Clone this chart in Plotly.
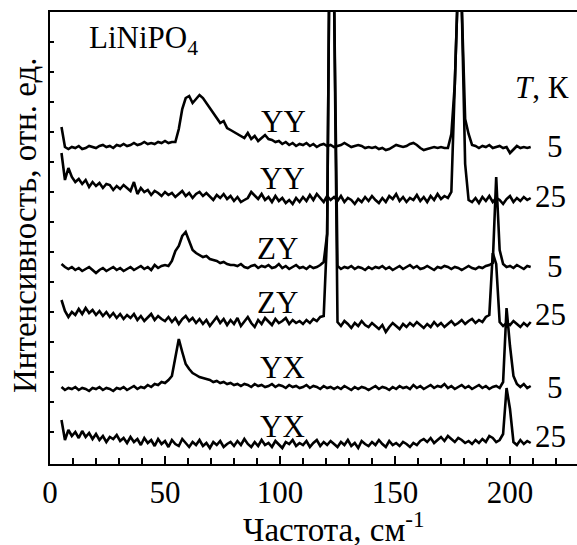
import plotly.graph_objects as go

# Raman shift grid, cm^-1
wavenumber = [
    5, 6.5, 8, 9.5, 11, 12.5, 14, 15.5, 17, 18.5,
    20, 21.5, 23, 24.5, 26, 27.5, 29, 30.5, 32, 33.5,
    35, 36.5, 38, 39.5, 41, 42.5, 44, 45.5, 47, 48.5,
    50, 51.5, 53, 54.5, 56, 57.5, 59, 60.5, 62, 63.5,
    65, 66.5, 68, 69.5, 71, 72.5, 74, 75.5, 77, 78.5,
    80, 81.5, 83, 84.5, 86, 87.5, 89, 90.5, 92, 93.5,
    95, 96.5, 98, 99.5, 101, 102.5, 104, 105.5, 107, 108.5,
    110, 111.5, 113, 114.5, 116, 117.5, 119, 120.5, 122, 123.5,
    125, 126.5, 128, 129.5, 131, 132.5, 134, 135.5, 137, 138.5,
    140, 141.5, 143, 144.5, 146, 147.5, 149, 150.5, 152, 153.5,
    155, 156.5, 158, 159.5, 161, 162.5, 164, 165.5, 167, 168.5,
    170, 171.5, 173, 174.5, 176, 177.5, 179, 180.5, 182, 183.5,
    185, 186.5, 188, 189.5, 191, 192.5, 194, 195.5, 197, 198.5,
    200, 201.5, 203, 204.5, 206, 207.5, 209,
]

# Offset spectra (relative units)
yy_5K = [
    337, 317, 315, 317, 316, 318, 315, 316, 318, 317,
    316, 318, 319, 317, 318, 316, 319, 318, 320, 318,
    319, 321, 319, 320, 322, 320, 321, 320, 322, 321,
    323, 321, 322, 322, 335, 355, 366, 368, 361, 365,
    369, 366, 361, 355, 350, 345, 341, 343, 336, 334,
    332, 330, 328, 326, 331, 325, 328, 323, 326, 329,
    325, 324, 322, 323, 320, 322, 319, 321, 318, 320,
    319, 321, 318, 320, 317, 319, 320, 318, 319, 317,
    318, 319, 321, 319, 317, 318, 319, 318, 316, 317,
    316, 317, 315, 316, 314, 315, 317, 319, 318, 317,
    318, 320, 321, 319, 316, 314, 315, 316, 317, 316,
    317, 316, 316, 330, 380, 488, 460, 345, 330, 319,
    318, 316, 318, 317, 319, 316, 317, 318, 316, 317,
    311, 315, 318, 316, 317, 316, 317,
]
yy_25K = [
    311, 284, 296, 287, 282, 285, 280, 284, 277, 282,
    278, 281, 276, 280, 279, 274, 278, 275, 279, 276,
    273, 282, 270, 276, 272, 274, 269, 273, 271, 268,
    272, 269, 271, 267, 270, 273, 268, 271, 266, 270,
    272, 268, 271, 267, 264, 269, 266, 270, 265, 268,
    263, 267, 262, 264, 266, 272, 268, 265, 270, 264,
    267, 262, 268, 263, 266, 261, 264, 260, 266, 262,
    267, 263, 269, 264, 270, 266, 262, 268, 264, 267,
    263, 268, 262, 266, 264, 260, 265, 262, 267, 263,
    268, 264, 261, 266, 262, 268, 265, 270, 263, 267,
    262, 266, 264, 269, 263, 267, 262, 268, 264, 270,
    265, 268, 266, 272, 380, 488, 460, 300, 264, 262,
    266, 261, 267, 263, 268, 262, 266, 264, 260, 265,
    268, 262, 266, 263, 267, 264, 266,
]
zy_5K = [
    200, 197, 195, 197, 194, 196, 193, 195, 197, 194,
    191, 194, 196, 193, 195, 197, 194, 196, 193, 195,
    197, 194, 196, 198, 195, 197, 194, 199, 196, 198,
    199, 198, 203, 213, 218, 228, 232, 222, 214, 211,
    209, 207, 208, 205, 204, 203, 201, 202, 200, 199,
    199, 198, 200, 197, 196, 198, 199, 196, 198, 197,
    199, 196, 197, 200, 196, 198, 195, 197, 199, 196,
    197, 195, 198, 196, 197, 199, 202, 230, 650, 470,
    198, 195, 197, 196, 198, 195, 197, 196, 194, 197,
    195, 197, 196, 198, 195, 197, 194, 196, 198, 195,
    197, 199, 196, 198, 195, 196, 198, 196, 194, 197,
    196, 198, 197, 195, 197, 196, 194, 196, 198, 196,
    195, 197, 196, 198, 199, 201, 287, 214, 200, 197,
    198, 196, 199, 197, 195, 198, 197,
]
zy_25K = [
    164, 153, 147, 152, 149, 155, 150, 156, 151, 154,
    149, 153, 148, 152, 147, 151, 146, 150, 145, 149,
    146, 150, 144, 148, 143, 147, 150, 144, 148, 145,
    143, 147, 142, 146, 140, 145, 148, 143, 146, 141,
    145, 140, 144, 138, 143, 147, 141, 145, 139, 144,
    140, 146, 138, 143, 147, 141, 137, 144, 140, 146,
    142, 139, 145, 141, 143, 146, 140, 144, 141, 143,
    140, 144, 141, 145, 143, 147, 148, 230, 650, 470,
    142, 138, 143, 140, 136, 141, 138, 143, 139, 137,
    141, 138, 135, 139, 132, 137, 141, 138, 135, 140,
    137, 141, 138, 142, 139, 136, 140, 137, 142, 138,
    141, 137, 140, 143, 139, 141, 144, 140, 143, 145,
    141, 144, 142, 147, 149, 211, 200, 142, 138, 141,
    139, 143, 140, 137, 141, 138, 142,
]
yx_5K = [
    77, 74, 76, 75, 77, 74, 76, 75, 73, 76,
    75, 77, 74, 76, 75, 73, 76, 75, 77, 74,
    76, 78, 75, 77, 76, 79, 77, 80, 79, 82,
    81, 84, 88, 107, 125, 112, 100, 95, 91, 89,
    87, 86, 85, 84, 82, 83, 81, 82, 80, 81,
    79, 80, 78, 80, 79, 77, 80, 78, 79, 77,
    78, 80, 77, 79, 78, 76, 79, 77, 78, 76,
    77, 79, 76, 78, 77, 75, 78, 76, 77, 75,
    77, 75, 78, 76, 74, 77, 75, 77, 76, 74,
    76, 78, 75, 77, 76, 74, 77, 75, 78, 76,
    77, 75, 79, 76, 78, 75, 77, 79, 76, 78,
    77, 80, 76, 78, 75, 77, 79, 76, 78, 75,
    77, 79, 76, 78, 75, 77, 78, 76, 82, 156,
    118, 88, 80, 77, 80, 76, 78,
]
yx_25K = [
    44, 24, 34, 28, 32, 26, 33, 27, 31, 25,
    30, 24, 28, 22, 27, 25, 29, 23, 26, 21,
    27, 22, 25, 19, 26, 21, 24, 18, 25, 20,
    23, 17, 24, 20, 18, 25, 21, 17, 22, 19,
    24, 18, 21, 16, 22, 19, 23, 17, 20, 22,
    18, 23, 19, 25, 20, 17, 22, 18, 24, 19,
    21, 17, 23, 19, 16, 22, 20, 24, 18, 21,
    19, 23, 17, 21, 24, 18, 22, 19, 23, 20,
    17, 22, 19, 24, 18, 21, 16, 23, 20, 18,
    22, 19, 24, 20, 17, 23, 19, 21, 18, 22,
    20, 17, 21, 19, 23, 25, 22, 26, 21, 24,
    27, 23, 28, 25, 22, 26, 24, 21, 23, 20,
    24, 21, 25, 22, 28, 26, 22, 24, 30, 76,
    55, 22, 19, 24, 20, 23, 21,
]

series = [yy_5K, yy_25K, zy_5K, zy_25K, yx_5K, yx_25K]
geometry_labels = ["YY", "YY", "ZY", "ZY", "YX", "YX"]
temperature_labels = ["5", "25", "5", "25", "5", "25"]

x_tick_values = [0, 50, 100, 150, 200]
x_tick_labels = ["0", "50", "100", "150", "200"]
y_tick_values = [32, 62, 92, 122, 152, 182, 212, 242, 272, 302, 332, 362, 392, 422]

FONT = "Liberation Serif, DejaVu Serif, serif"

fig = go.Figure()
for ys in series:
    fig.add_trace(go.Scatter(
        x=wavenumber, y=ys, mode="lines",
        line=dict(color="black", width=2.6),
        showlegend=False, hoverinfo="skip",
    ))

# label positions (data coords)
geo_pos = [(101.7, 343), (101.3, 286), (98.9, 216), (98.7, 162), (101.3, 97), (101.3, 37.5)]
temp_pos = [(219.6, 317.5), (217.8, 268), (219.6, 198), (217.8, 150), (219.6, 77), (217.8, 28)]

ann = []
for (gx, gy), txt in zip(geo_pos, geometry_labels):
    ann.append(dict(x=gx, y=gy, xref="x", yref="y", text=txt, showarrow=False,
                    xanchor="center", yanchor="middle",
                    font=dict(family=FONT, size=31, color="black")))
for (tx, ty), txt in zip(temp_pos, temperature_labels):
    ann.append(dict(x=tx, y=ty, xref="x", yref="y", text=txt, showarrow=False,
                    xanchor="center", yanchor="middle",
                    font=dict(family=FONT, size=31, color="black")))
ann.append(dict(x=213.8, y=377, xref="x", yref="y", text="<i>T</i>, К", showarrow=False,
                xanchor="center", yanchor="middle",
                font=dict(family=FONT, size=31, color="black")))
ann.append(dict(x=16.1, y=424, xref="x", yref="y", text="LiNiPO<sub>4</sub>", showarrow=False,
                xanchor="left", yanchor="middle",
                font=dict(family=FONT, size=31, color="black")))
# axis titles
ann.append(dict(x=(241 - 50) / 527, y=(464 - 527) / 452, xref="paper", yref="paper",
                text="Частота, см<sup>-1</sup>", showarrow=False,
                xanchor="left", yanchor="middle",
                font=dict(family=FONT, size=33, color="black")))
ann.append(dict(x=(25 - 50) / 527, y=(464 - 225) / 452, xref="paper", yref="paper",
                text="Интенсивность, отн. ед.", showarrow=False, textangle=-90,
                xanchor="center", yanchor="middle",
                font=dict(family=FONT, size=33, color="black")))

fig.update_layout(
    width=577, height=545,
    margin=dict(l=50, r=0, t=12, b=81),
    paper_bgcolor="white", plot_bgcolor="white",
    annotations=ann,
    xaxis=dict(
        range=[0, 527 / 2.3], tickmode="array", tickvals=x_tick_values, ticktext=x_tick_labels,
        ticks="inside", ticklen=8, tickwidth=1.5, tickcolor="black",
        minor=dict(dtick=10, tick0=0, ticks="inside", ticklen=6, tickwidth=1.5, tickcolor="black"),
        showline=True, linewidth=2, linecolor="black", mirror=True,
        showgrid=False, zeroline=False,
        tickfont=dict(family=FONT, size=31, color="black"),
    ),
    yaxis=dict(
        range=[0, 452], tickmode="array", tickvals=y_tick_values,
        ticks="inside", ticklen=4, tickwidth=1.5, tickcolor="black",
        showticklabels=False,
        showline=True, linewidth=2, linecolor="black",
        showgrid=False, zeroline=False,
    ),
)

fig.write_html(
    "out.html",
    config={"displayModeBar": False},
    post_script="document.body.style.margin='0';document.body.style.overflow='hidden';",
)
